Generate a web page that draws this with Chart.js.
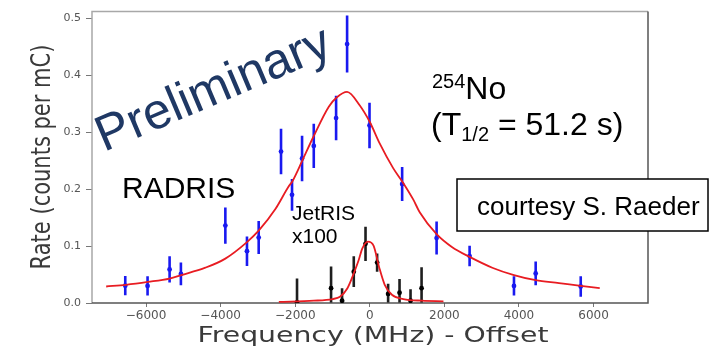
<!DOCTYPE html>
<html>
<head>
<meta charset="utf-8">
<script src="https://cdn.jsdelivr.net/npm/chart.js@4.4.1/dist/chart.umd.min.js"></script>
<style>
  html, body { margin: 0; padding: 0; background: #fff; }
  #wrap { width: 710px; height: 346px; }
</style>
</head>
<body>
<div id="wrap"><canvas id="rateChart"></canvas></div>
<script>
// RADRIS scan (blue)
const radrisFreq = [-6558, -5960, -5369, -5066, -3874, -3294, -2980, -2381, -2086, -1817, -1503, -904, -609, -8, 867, 1791, 2676, 3866, 4448, 5656];
const radrisRate = [0.0305, 0.030, 0.059, 0.051, 0.136, 0.091, 0.115, 0.266, 0.190, 0.254, 0.276, 0.325, 0.455, 0.312, 0.209, 0.114, 0.0825, 0.030, 0.052, 0.029];
const radrisErr  = [0.017, 0.017, 0.023, 0.020, 0.032, 0.026, 0.029, 0.040, 0.028, 0.040, 0.039, 0.039, 0.050, 0.040, 0.030, 0.029, 0.018, 0.017, 0.021, 0.018];

// JetRIS scan, scaled x100 (black)
const jetrisFreq = [-1952, -1039, -744, -430, -115, 196, 491, 797, 1092, 1388];
const jetrisRate = [0.001, 0.026, 0.004, 0.055, 0.104, 0.071, 0.016, 0.018, 0.004, 0.026];
const jetrisErr  = [0.042, 0.038, 0.022, 0.027, 0.030, 0.016, 0.018, 0.024, 0.020, 0.037];

// fitted line shapes
const radrisFitFreq = [-7070, -6540, -5950, -5370, -5055, -4410, -3874, -3294, -2980, -2532, -2174, -2075, -1805, -1535, -1100, -890, -610, -268, 0, 268, 626, 895, 1163, 1342, 1791, 2210, 2676, 3284, 3866, 4448, 5074, 5656, 6166];
const radrisFitRate = [0.029, 0.032, 0.037, 0.043, 0.049, 0.062, 0.078, 0.107, 0.127, 0.165, 0.205, 0.214, 0.251, 0.289, 0.345, 0.361, 0.371, 0.347, 0.318, 0.280, 0.237, 0.211, 0.182, 0.159, 0.121, 0.098, 0.081, 0.062, 0.049, 0.040, 0.035, 0.030, 0.026];
const jetrisFitFreq = [-2440, -1500, -1000, -800, -600, -430, -300, -200, -50, 100, 250, 400, 600, 900, 1400, 1975];
const jetrisFitRate = [0.002, 0.004, 0.007, 0.011, 0.026, 0.052, 0.075, 0.096, 0.108, 0.101, 0.063, 0.032, 0.014, 0.007, 0.004, 0.003];

// axis ticks
const xTicks = [-6000, -4000, -2000, 0, 2000, 4000, 6000];
const xTickLabels = ['\u22126000', '\u22124000', '\u22122000', '0', '2000', '4000', '6000'];
const yTicks = [0, 0.1, 0.2, 0.3, 0.4, 0.5];
const yTickLabels = ['0.0', '0.1', '0.2', '0.3', '0.4', '0.5'];

const BLUE = 'rgb(25,25,240)';
const RED = 'rgb(232,28,34)';
const SANS = '"Liberation Sans", Arial, sans-serif';

function toPoints(xs, ys) {
    return xs.map((x, i) => ({ x: x, y: ys[i] }));
}

// vertical error bars for any dataset carrying yErr
const errorBars = {
    id: 'errorBars',
    beforeDatasetsDraw(chart) {
        const ctx = chart.ctx;
        const area = chart.chartArea;
        const yScale = chart.scales.y;
        ctx.save();
        ctx.beginPath();
        ctx.rect(area.left, area.top, area.right - area.left, area.bottom - area.top);
        ctx.clip();
        chart.data.datasets.forEach((ds, i) => {
            if (!ds.yErr) return;
            const meta = chart.getDatasetMeta(i);
            ctx.strokeStyle = ds.errColor;
            ctx.lineWidth = 2.6;
            meta.data.forEach((pt, j) => {
                const v = ds.data[j].y;
                ctx.beginPath();
                ctx.moveTo(pt.x, yScale.getPixelForValue(v + ds.yErr[j]));
                ctx.lineTo(pt.x, yScale.getPixelForValue(v - ds.yErr[j]));
                ctx.stroke();
            });
        });
        ctx.restore();
    }
};

// frame, axis titles and text labels
const decorations = {
    id: 'decorations',
    beforeDatasetsDraw(chart) {
        const ctx = chart.ctx;
        const a = chart.chartArea;
        ctx.save();
        ctx.lineWidth = 1.5;
        ctx.strokeStyle = '#a8a8a8';
        ctx.beginPath();
        ctx.moveTo(a.left, a.bottom);
        ctx.lineTo(a.left, a.top);
        ctx.lineTo(a.right, a.top);
        ctx.stroke();
        ctx.strokeStyle = '#555';
        ctx.beginPath();
        ctx.moveTo(a.right, a.top);
        ctx.lineTo(a.right, a.bottom);
        ctx.lineTo(a.left, a.bottom);
        ctx.stroke();

        // axis titles
        ctx.fillStyle = '#3a3a3a';
        ctx.font = '22px "DejaVu Sans"';
        const xt = 'Frequency (MHz) - Offset';
        const sx = 351 / ctx.measureText(xt).width;
        ctx.save();
        ctx.translate(373, 342);
        ctx.scale(sx, 1);
        ctx.textAlign = 'center';
        ctx.fillText(xt, 0, 0);
        ctx.restore();

        ctx.save();
        ctx.translate(50, 157);
        ctx.rotate(-Math.PI / 2);
        ctx.scale(1, 1.3);
        ctx.font = '21px "DejaVu Sans"';
        ctx.textAlign = 'center';
        ctx.fillText('Rate (counts per mC)', 0, 0);
        ctx.restore();

        // watermark
        ctx.save();
        ctx.translate(104, 152);
        ctx.rotate(-23 * Math.PI / 180);
        ctx.fillStyle = '#1f3864';
        ctx.font = '50px ' + SANS;
        ctx.fillText('Preliminary', 0, 0);
        ctx.restore();
        ctx.restore();
    },
    afterDraw(chart) {
        const ctx = chart.ctx;
        ctx.save();
        ctx.fillStyle = '#000';
        ctx.textAlign = 'left';

        ctx.font = '30px ' + SANS;
        ctx.fillText('RADRIS', 122, 198);

        ctx.font = '21px ' + SANS;
        ctx.fillText('JetRIS', 292, 220);
        ctx.fillText('x100', 292, 243);

        // isotope and half-life
        ctx.font = '20px ' + SANS;
        ctx.fillText('254', 432, 88);
        let x = 432 + ctx.measureText('254').width;
        ctx.font = '32px ' + SANS;
        ctx.fillText('No', x, 99);

        x = 431;
        ctx.fillText('(T', x, 135);
        x += ctx.measureText('(T').width;
        ctx.font = '20px ' + SANS;
        ctx.fillText('1/2', x, 141);
        x += ctx.measureText('1/2').width;
        ctx.font = '32px ' + SANS;
        ctx.fillText(' = 51.2 s)', x, 135);

        // credit box
        ctx.fillStyle = '#fff';
        ctx.fillRect(457, 179, 251, 52);
        ctx.strokeStyle = '#000';
        ctx.lineWidth = 1.5;
        ctx.strokeRect(457, 179, 251, 52);
        ctx.fillStyle = '#000';
        ctx.font = '26px ' + SANS;
        ctx.fillText('courtesy S. Raeder', 477, 215);
        ctx.restore();
    }
};

const ctx = document.getElementById('rateChart').getContext('2d');
new Chart(ctx, {
    type: 'scatter',
    data: {
        datasets: [{
            label: 'RADRIS fit',
            data: toPoints(radrisFitFreq, radrisFitRate),
            showLine: true,
            borderColor: RED,
            borderWidth: 1.8,
            pointRadius: 0,
            cubicInterpolationMode: 'monotone'
        }, {
            label: 'JetRIS fit',
            data: toPoints(jetrisFitFreq, jetrisFitRate),
            showLine: true,
            borderColor: RED,
            borderWidth: 1.8,
            pointRadius: 0,
            cubicInterpolationMode: 'monotone'
        }, {
            label: 'RADRIS',
            data: toPoints(radrisFreq, radrisRate),
            yErr: radrisErr,
            errColor: BLUE,
            pointRadius: 2.4,
            pointBorderWidth: 0,
            pointBackgroundColor: BLUE
        }, {
            label: 'JetRIS x100',
            data: toPoints(jetrisFreq, jetrisRate),
            yErr: jetrisErr,
            errColor: '#1e1e1e',
            pointRadius: 2.4,
            pointBorderWidth: 0,
            pointBackgroundColor: '#000'
        }]
    },
    options: {
        responsive: true,
        maintainAspectRatio: false,
        animation: false,
        devicePixelRatio: 1,
        layout: { padding: { top: 8, right: 62, bottom: 0, left: 0 } },
        plugins: {
            legend: { display: false },
            tooltip: { enabled: false }
        },
        scales: {
            x: {
                type: 'linear',
                min: -7450,
                max: 7460,
                afterBuildTicks: (s) => { s.ticks = xTicks.map(v => ({ value: v })); },
                afterFit: (s) => { s.height = 43; },
                grid: { drawOnChartArea: false, drawTicks: true, tickLength: 4, color: '#777' },
                border: { display: false },
                ticks: {
                    callback: (v, i) => xTickLabels[i],
                    color: '#555',
                    font: { family: 'DejaVu Sans', size: 12 },
                    padding: 2,
                    maxRotation: 0,
                    autoSkip: false
                }
            },
            y: {
                type: 'linear',
                min: 0,
                max: 0.512,
                afterBuildTicks: (s) => { s.ticks = yTicks.map(v => ({ value: v })); },
                afterFit: (s) => { s.width = 92; },
                grid: { drawOnChartArea: false, drawTicks: true, tickLength: 6, color: '#777' },
                border: { display: false },
                ticks: {
                    callback: (v, i) => yTickLabels[i],
                    color: '#555',
                    font: { family: 'DejaVu Sans', size: 11 },
                    padding: 5,
                    autoSkip: false
                }
            }
        }
    },
    plugins: [errorBars, decorations]
});
</script>
</body>
</html>
